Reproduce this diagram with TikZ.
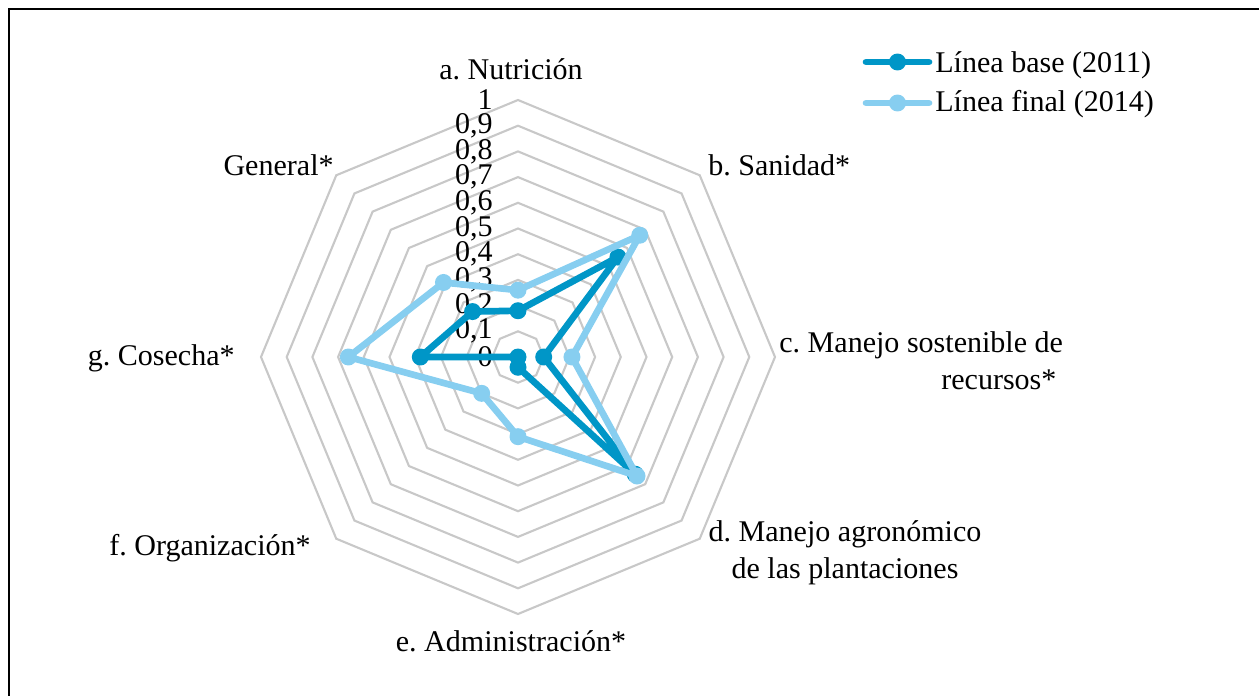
\documentclass[tikz,border=0pt]{standalone}
\usepackage{fontspec}
\setmainfont{Liberation Serif}
\usepackage{tikz}
\usetikzlibrary{calc}
\frenchspacing

\definecolor{colbase}{RGB}{0,150,199}
\definecolor{colfinal}{RGB}{135,206,240}
\definecolor{gridgray}{RGB}{200,200,200}

\tikzset{
	gridline/.style={draw=gridgray, line width=1.2pt, line join=miter},
	linebase/.style={draw=colbase, line width=3.8pt, line join=round},
	linefinal/.style={draw=colfinal, line width=3.8pt, line join=round},
	lbl/.style={font=\fontsize{17.1}{21}\selectfont, inner sep=0pt},
}

\begin{document}
\begin{tikzpicture}[x=0.02cm, y=0.02cm]
	\useasboundingbox (0,0) rectangle (1259,-696);
	\clip (0,0) rectangle (1259,-696);
	\draw [black, line width=1.1pt] (9,-9) rectangle (1280,-720);
	% radar
	\begin{scope}[shift={(518,-357)}]
	\coordinate (ctr) at (0,0);
	\foreach \k in {1,...,10}
		\draw [gridline] (90:\k*25.7) \foreach \a in {45,0,-45,-90,-135,180,135} {-- (\a:\k*25.7)} -- cycle;
	\foreach \t [count=\k from 0] in {0,{0,1},{0,2},{0,3},{0,4},{0,5},{0,6},{0,7},{0,8},{0,9},1}
		\node [lbl, anchor=east] (lv\k) at (-25,\k*25.7) {\t};
	% data
	\foreach \v [count=\i] in {0.18,0.55,0.10,0.645,0.04,0,0.38,0.25}
		\coordinate (base\i) at ({90-45*(\i-1)}:{\v*257});
	\foreach \v [count=\i] in {0.26,0.67,0.21,0.655,0.31,0.20,0.66,0.41}
		\coordinate (final\i) at ({90-45*(\i-1)}:{\v*257});
	\end{scope}
	\draw [linebase] (base1) \foreach \i in {2,...,8} {-- (base\i)} -- cycle;
	\foreach \i in {1,...,8} \fill [colbase] (base\i) circle (0.17cm);
	\draw [linefinal] (final1) \foreach \i in {2,...,8} {-- (final\i)} -- cycle;
	\foreach \i in {1,...,8} \fill [colfinal] (final\i) circle (0.17cm);
	% axis labels
	\node [lbl, anchor=base] (la) at (511,-80) {a. Nutrición};
	\node [lbl, anchor=base west] (lb) at (708,-175) {b. Sanidad*};
	\node [lbl, anchor=north west, align=left] (lc) at (779,-331) {c. Manejo sostenible de\\\hspace*{3.24cm}recursos*};
	\node [lbl, anchor=north, align=center] (ld) at (845,-520) {d. Manejo agronómico\\de las plantaciones};
	\node [lbl, anchor=base] (le) at (511,-651) {e. Administración*};
	\node [lbl, anchor=base east] (lf) at (311,-555) {f. Organización*};
	\node [lbl, anchor=base east] (lg) at (235,-365) {g. Cosecha*};
	\node [lbl, anchor=base east] (lh) at (334,-175) {General*};
	% legend
	\coordinate (kb1) at (866,-62);
	\coordinate (kb2) at (929,-62);
	\coordinate (kf1) at (866,-103);
	\coordinate (kf2) at (929,-103);
	\draw [linebase, line cap=round] (kb1) -- (kb2);
	\fill [colbase] ($(kb1)!0.5!(kb2)$) circle (0.17cm);
	\draw [linefinal, line cap=round] (kf1) -- (kf2);
	\fill [colfinal] ($(kf1)!0.5!(kf2)$) circle (0.17cm);
	\node [lbl, anchor=base west] (tb) at (935,-73) {Línea base (2011)};
	\node [lbl, anchor=base west] (tf) at (935,-112) {Línea final (2014)};
\end{tikzpicture}
\end{document}
